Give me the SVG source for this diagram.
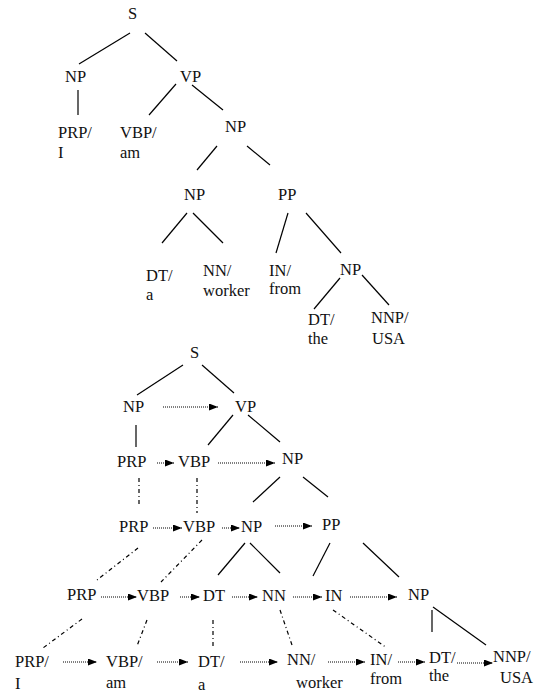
<svg xmlns="http://www.w3.org/2000/svg" width="546" height="695" viewBox="0 0 546 695">
<style>
text{font-family:"Liberation Serif","Times New Roman",serif;font-size:16.5px;fill:#111}
.s{stroke:#000;stroke-width:1.2;fill:none}
.dd{stroke:#000;stroke-width:1.2;fill:none;stroke-dasharray:4 3 1 3}
.dt{stroke:#000;stroke-width:1;fill:none;stroke-dasharray:1 1;marker-end:url(#ah)}
</style>
<defs>
<marker id="ah" markerUnits="userSpaceOnUse" markerWidth="10" markerHeight="8" refX="9" refY="3.5" orient="auto">
<path d="M0,0 L9,3.5 L0,7 z" fill="#000"/>
</marker>
</defs>
<g id="connectors">
<g id="tree1-edges">
<line class="s" x1="130" y1="33" x2="79" y2="64"/>
<line class="s" x1="145" y1="33" x2="177" y2="61"/>
<line class="s" x1="78" y1="90" x2="78" y2="115"/>
<line class="s" x1="176" y1="84" x2="149" y2="115"/>
<line class="s" x1="192" y1="85" x2="223" y2="110"/>
<line class="s" x1="217" y1="146" x2="197" y2="170"/>
<line class="s" x1="247" y1="146" x2="270" y2="165"/>
<line class="s" x1="187" y1="213" x2="162" y2="243"/>
<line class="s" x1="193" y1="213" x2="223" y2="243"/>
<line class="s" x1="288" y1="213" x2="276" y2="253"/>
<line class="s" x1="306" y1="213" x2="341" y2="253"/>
<line class="s" x1="340" y1="278" x2="314" y2="309"/>
<line class="s" x1="362" y1="275" x2="389" y2="305"/>
</g>
<g id="tree2-edges">
<line class="s" x1="183" y1="365" x2="137" y2="395"/>
<line class="s" x1="202" y1="365" x2="234" y2="393"/>
<line class="s" x1="136" y1="425" x2="136" y2="447"/>
<line class="s" x1="233" y1="415" x2="208" y2="445"/>
<line class="s" x1="248" y1="415" x2="280" y2="442"/>
<line class="s" x1="280" y1="477" x2="253" y2="502"/>
<line class="s" x1="303" y1="477" x2="328" y2="497"/>
<line class="s" x1="245" y1="543" x2="218" y2="575"/>
<line class="s" x1="250" y1="543" x2="280" y2="573"/>
<line class="s" x1="330" y1="543" x2="313" y2="576"/>
<line class="s" x1="363" y1="543" x2="399" y2="577"/>
<line class="s" x1="432" y1="610" x2="432" y2="632"/>
<line class="s" x1="433" y1="607" x2="486" y2="645"/>
</g>
<g id="dashdot">
<line class="dd" x1="139" y1="478" x2="139" y2="507"/>
<line class="dd" x1="197" y1="478" x2="197" y2="513"/>
<line class="dd" x1="138" y1="548" x2="97" y2="580"/>
<line class="dd" x1="202" y1="540" x2="161" y2="582"/>
<line class="dd" x1="82" y1="619" x2="43" y2="648"/>
<line class="dd" x1="147" y1="620" x2="137" y2="646"/>
<line class="dd" x1="213" y1="620" x2="213" y2="648"/>
<line class="dd" x1="280" y1="610" x2="292" y2="645"/>
<line class="dd" x1="333" y1="610" x2="387" y2="648"/>
</g>
<g id="arrows">
<line class="dt" x1="163" y1="407" x2="218" y2="407"/>
<line class="dt" x1="157" y1="463" x2="174" y2="463"/>
<line class="dt" x1="218" y1="463" x2="275" y2="463"/>
<line class="dt" x1="153" y1="528" x2="182" y2="528"/>
<line class="dt" x1="222" y1="528" x2="240" y2="528"/>
<line class="dt" x1="275" y1="526" x2="312" y2="526"/>
<line class="dt" x1="101" y1="597" x2="137" y2="597"/>
<line class="dt" x1="180" y1="597" x2="200" y2="597"/>
<line class="dt" x1="232" y1="597" x2="258" y2="597"/>
<line class="dt" x1="293" y1="597" x2="322" y2="597"/>
<line class="dt" x1="350" y1="597" x2="397" y2="597"/>
<line class="dt" x1="63" y1="662" x2="97" y2="662"/>
<line class="dt" x1="157" y1="662" x2="188" y2="662"/>
<line class="dt" x1="240" y1="662" x2="278" y2="662"/>
<line class="dt" x1="328" y1="662" x2="365" y2="662"/>
<line class="dt" x1="398" y1="662" x2="425" y2="662"/>
<line class="dt" x1="457" y1="663" x2="493" y2="663"/>
</g>
</g>
<g id="tree1">
<g id="t1-S"><text x="128" y="19">S</text></g>
<g id="t1-NP1"><text x="65" y="82">NP</text></g>
<g id="t1-VP"><text x="180" y="82">VP</text></g>
<g id="t1-PRP"><text x="58" y="138">PRP/</text><text x="58" y="158">I</text></g>
<g id="t1-VBP"><text x="120" y="138">VBP/</text><text x="120" y="158">am</text></g>
<g id="t1-NP2"><text x="225" y="132">NP</text></g>
<g id="t1-NP3"><text x="184" y="200">NP</text></g>
<g id="t1-PP"><text x="278" y="200">PP</text></g>
<g id="t1-DT1"><text x="146" y="281">DT/</text><text x="146" y="300">a</text></g>
<g id="t1-NN"><text x="203" y="276">NN/</text><text x="203" y="296">worker</text></g>
<g id="t1-IN"><text x="269" y="276">IN/</text><text x="269" y="294">from</text></g>
<g id="t1-NP4"><text x="340" y="275">NP</text></g>
<g id="t1-DT2"><text x="308" y="325">DT/</text><text x="308" y="344">the</text></g>
<g id="t1-NNP"><text x="371" y="323">NNP/</text><text x="372" y="344">USA</text></g>
</g>
<g id="tree2">
<g id="t2-S"><text x="190" y="358">S</text></g>
<g id="t2-NP1"><text x="123" y="412">NP</text></g>
<g id="t2-VP"><text x="235" y="412">VP</text></g>
<g id="t2-PRP1"><text x="117" y="467">PRP</text></g>
<g id="t2-VBP1"><text x="178" y="467">VBP</text></g>
<g id="t2-NP2"><text x="282" y="464">NP</text></g>
<g id="t2-PRP2"><text x="119" y="532">PRP</text></g>
<g id="t2-VBP2"><text x="183" y="532">VBP</text></g>
<g id="t2-NP3"><text x="241" y="532">NP</text></g>
<g id="t2-PP"><text x="322" y="530">PP</text></g>
<g id="t2-PRP3"><text x="67" y="600">PRP</text></g>
<g id="t2-VBP3"><text x="137" y="601">VBP</text></g>
<g id="t2-DT"><text x="203" y="601">DT</text></g>
<g id="t2-NN"><text x="262" y="601">NN</text></g>
<g id="t2-IN"><text x="325" y="601">IN</text></g>
<g id="t2-NP4"><text x="408" y="600">NP</text></g>
<g id="t2-PRPw"><text x="15" y="667">PRP/</text><text x="15" y="689">I</text></g>
<g id="t2-VBPw"><text x="106" y="667">VBP/</text><text x="106" y="688">am</text></g>
<g id="t2-DTw"><text x="198" y="667">DT/</text><text x="198" y="690">a</text></g>
<g id="t2-NNw"><text x="287" y="665">NN/</text><text x="296" y="688">worker</text></g>
<g id="t2-INw"><text x="370" y="665">IN/</text><text x="370" y="684">from</text></g>
<g id="t2-DT2w"><text x="429" y="663">DT/</text><text x="429" y="681">the</text></g>
<g id="t2-NNPw"><text x="493" y="662">NNP/</text><text x="500" y="683">USA</text></g>
</g>
</svg>
